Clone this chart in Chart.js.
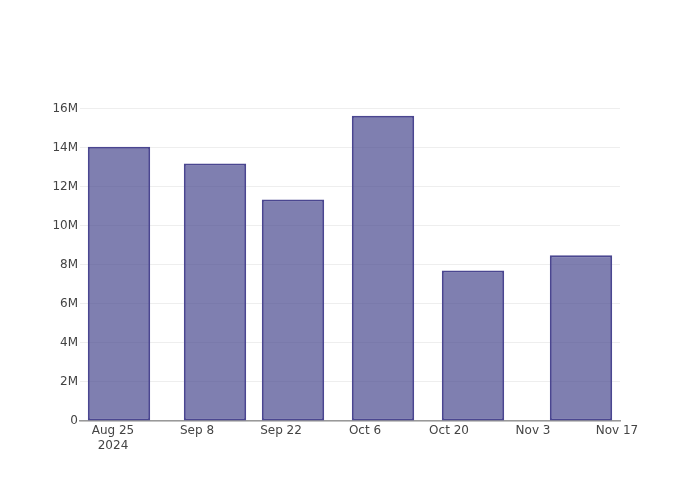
<!DOCTYPE html>
<html>
<head>
<meta charset="utf-8">
<script src="https://cdn.jsdelivr.net/npm/chart.js@4"></script>
<style>
  html, body { margin: 0; padding: 0; background: #fff; }
  #wrap { width: 700px; height: 500px; }
</style>
</head>
<body>
<div id="wrap"><canvas id="my-chart" width="700" height="500"></canvas></div>
<script>
// bar dates and values
const barDates = ["2024-08-26", "2024-09-11", "2024-09-24", "2024-10-09", "2024-10-24", "2024-11-11"]
const barValues = [14.07e6, 13.2e6, 11.36e6, 15.66e6, 7.72e6, 8.5e6]

// x axis ticks
const tickDates = ["2024-08-25", "2024-09-08", "2024-09-22", "2024-10-06", "2024-10-20", "2024-11-03", "2024-11-17"]
const tickLabels = [["Aug 25", "2024"], "Sep 8", "Sep 22", "Oct 6", "Oct 20", "Nov 3", "Nov 17"]

// y axis ticks
const yTicks = [0, 2e6, 4e6, 6e6, 8e6, 10e6, 12e6, 14e6, 16e6]
const yLabels = ["0", "2M", "4M", "6M", "8M", "10M", "12M", "14M", "16M"]

const DAY = 86400000
const origin = Date.parse(tickDates[0])
const toDay = (d) => (Date.parse(d) - origin) / DAY

const points = barDates.map((d, i) => ({ x: toDay(d), y: barValues[i] }))
const tickDays = tickDates.map(toDay)

const font = { family: "DejaVu Sans", size: 12 }

const ctx = document.getElementById('my-chart').getContext('2d')
const chart = new Chart(ctx, {
  type: 'bar',
  data: {
    datasets: [
      {
        data: points,
        backgroundColor: 'rgba(78, 78, 146, 0.72)',
        borderColor: 'rgb(74, 70, 144)',
        borderWidth: 2,
        borderSkipped: false,
        categoryPercentage: 0.8,
        barPercentage: 1.0
      }
    ]
  },
  options: {
    responsive: false,
    animation: false,
    layout: { padding: { top: 101, right: 80, left: 0, bottom: 0 } },
    plugins: { legend: { display: false }, tooltip: { enabled: false } },
    scales: {
      x: {
        type: 'linear',
        offset: false,
        min: -5.5,
        max: 84.5,
        afterBuildTicks: (axis) => { axis.ticks = tickDays.map(v => ({ value: v })) },
        afterFit: (axis) => { axis.height = 79 },
        grid: { display: false, drawTicks: false, offset: false },
        border: { display: true, color: '#999', width: 1.5 },
        ticks: {
          font: font,
          color: '#444',
          padding: 3,
          maxRotation: 0,
          autoSkip: false,
          callback: (v) => {
            const i = tickDays.indexOf(v)
            return i >= 0 ? tickLabels[i] : ''
          }
        }
      },
      y: {
        min: 0,
        max: 16.41e6,
        afterBuildTicks: (axis) => { axis.ticks = yTicks.map(v => ({ value: v })) },
        afterFit: (axis) => { axis.width = 80 },
        grid: { color: '#eeeeee', drawTicks: false },
        border: { display: false },
        ticks: {
          font: font,
          color: '#444',
          padding: 2,
          callback: (v) => {
            const i = yTicks.indexOf(v)
            return i >= 0 ? yLabels[i] : ''
          }
        }
      }
    }
  }
})
</script>
</body>
</html>
